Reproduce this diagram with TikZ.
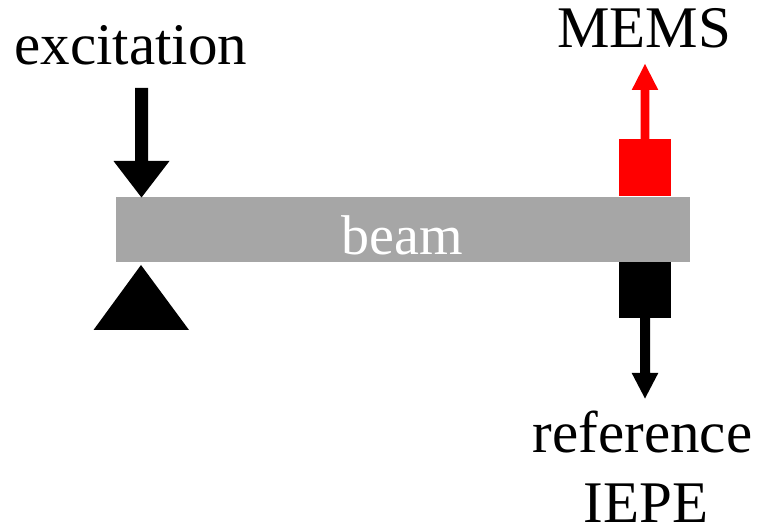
\documentclass[tikz,border=0pt]{standalone}
\usepackage{fontspec}
\setmainfont{Liberation Serif}
\definecolor{beamgray}{RGB}{166,166,166}
\definecolor{memsred}{RGB}{255,0,0}
\begin{document}
\begin{tikzpicture}[x=1pt,y=-1pt,
  label/.style={inner sep=0pt,anchor=base,font=\fontsize{59}{70}\selectfont},
  block/.style={draw=none,rectangle,inner sep=0pt,minimum width=52pt,minimum height=57pt}]
\useasboundingbox (0,0) rectangle (758,529);
% beam
\node[rectangle,fill=beamgray,inner sep=0pt,minimum width=574pt,minimum height=65pt] (beam) at (403,229.5) {};
\node[label,text=white,font=\fontsize{56}{66}\selectfont] (beamtxt) at (402,255) {beam};
% support
\fill (141,265) coordinate (supp) -- (93.5,330) -- (189,330) -- cycle;
% excitation arrow
\coordinate (exctop) at (141.5,88);
\fill (135,88) -- (148,88) -- (148,161) -- (169.5,161) -- (141.5,197.5) coordinate (exctip) -- (113.5,161) -- (135,161) -- cycle;
\node[label] (exc) at (131,65) {excitation};
% sensors
\node[block,fill=memsred,anchor=south] (mems) at (645,196.7) {};
\node[block,fill=black,anchor=north,minimum height=56pt] (iepe) at (645,261.7) {};
% arrow up from MEMS
\fill[memsred] (640.7,140) -- (649.3,140) -- (649.3,90) -- (658.3,90) -- (645,64) -- (631.7,90) -- (640.7,90) -- cycle;
\node[label] (memstxt) at (644,48) {MEMS};
% arrow down from reference sensor
\fill (640,317) -- (650,317) -- (650,373) -- (658.3,373) -- (645,398.5) -- (631.7,373) -- (640,373) -- cycle;
\node[label] (reftxt) at (642.5,452.5) {reference};
\node[label] (iepetxt) at (646,522.5) {IEPE};
\end{tikzpicture}
\end{document}
